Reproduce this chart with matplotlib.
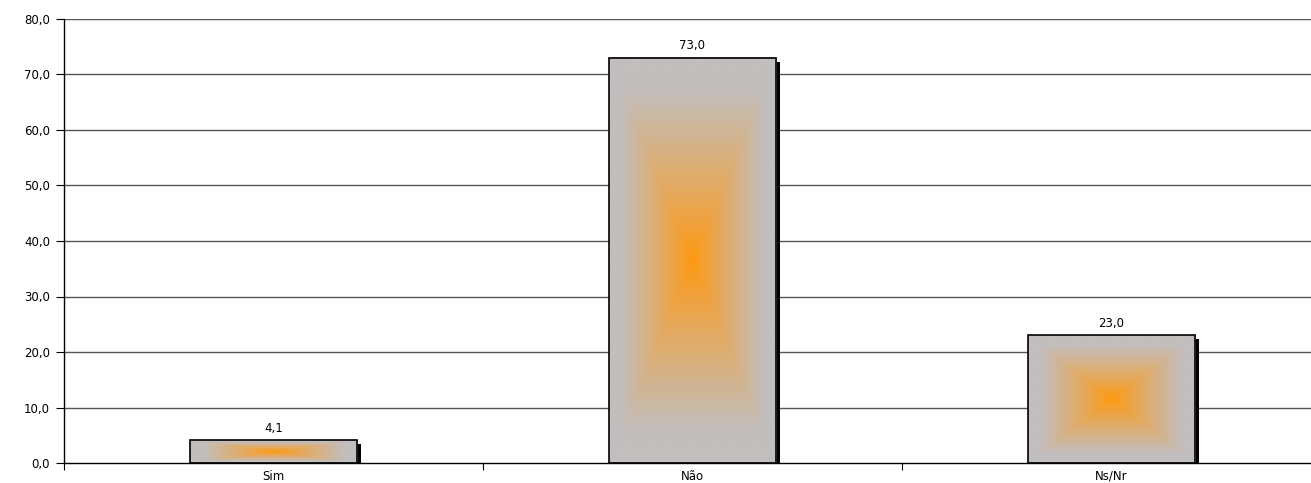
import numpy as np
import matplotlib
matplotlib.use("Agg")
import matplotlib.pyplot as plt
from matplotlib.colors import to_rgb

categories = ["Sim", "Não", "Ns/Nr"]
values = [4.1, 73.0, 23.0]
yticks = [0, 10, 20, 30, 40, 50, 60, 70, 80]

plt.rcParams['font.family'] = ['DejaVu Sans']

fig = plt.figure(figsize=(13.11, 4.83), dpi=100)
# axes run a bit past the right edge, as in the original
ax = fig.add_axes([64 / 1311, 20 / 483, 1257 / 1311, 444 / 483])

x = np.arange(len(categories))
width = 0.4
gray = np.array(to_rgb("#c2bebe"))
orange = np.array(to_rgb("#ff9910"))


def gradient_img(n=200):
    u = np.linspace(-1, 1, n)
    uu, vv = np.meshgrid(u, u)
    t = np.maximum(np.abs(uu), np.abs(vv))
    t = np.clip(t / 0.85, 0, 1) ** 0.9
    return orange * (1 - t[..., None]) + gray * t[..., None]


img = gradient_img()

# grid
for y in yticks[1:]:
    ax.axhline(y, color="#555555", lw=1.0, zorder=1)

bars = ax.bar(x, values, width=width, color="none", edgecolor="black", lw=1.2, zorder=4)
for b, v in zip(bars, values):
    x0 = b.get_x()
    x1 = x0 + b.get_width()
    # shadow
    ax.bar(x1 + 0.0045, v - 0.7, width=0.009, bottom=0, color="black", zorder=2)
    ax.imshow(img, extent=(x0, x1, 0, v), aspect="auto", zorder=3, interpolation="bilinear")
    ax.annotate(f"{v:.1f}".replace(".", ","), (b.get_x() + width / 2, v), xytext=(0, 4),
                textcoords="offset points", ha="center", va="bottom", fontsize=8.5)

ax.set_xlim(-0.5, len(categories) - 0.5)
ax.set_ylim(0, 80)
ax.set_yticks(yticks)
ax.set_yticklabels([f"{y:.1f}".replace(".", ",") for y in yticks], fontsize=8.5)
ax.set_xticks(x)
ax.set_xticklabels(categories, fontsize=8.5)
ax.set_xticks(np.arange(len(categories) + 1) - 0.5, minor=True)
ax.tick_params(axis="x", which="major", length=0, pad=5)
ax.tick_params(axis="x", which="minor", length=5, width=0.8)
ax.tick_params(axis="y", length=6, width=0.8, pad=4)

for s in ["top", "right"]:
    ax.spines[s].set_visible(False)
ax.spines["left"].set_linewidth(1.0)
ax.spines["bottom"].set_linewidth(1.0)
ax.spines["bottom"].set_zorder(5)

fig.savefig("out.png", dpi=100)
